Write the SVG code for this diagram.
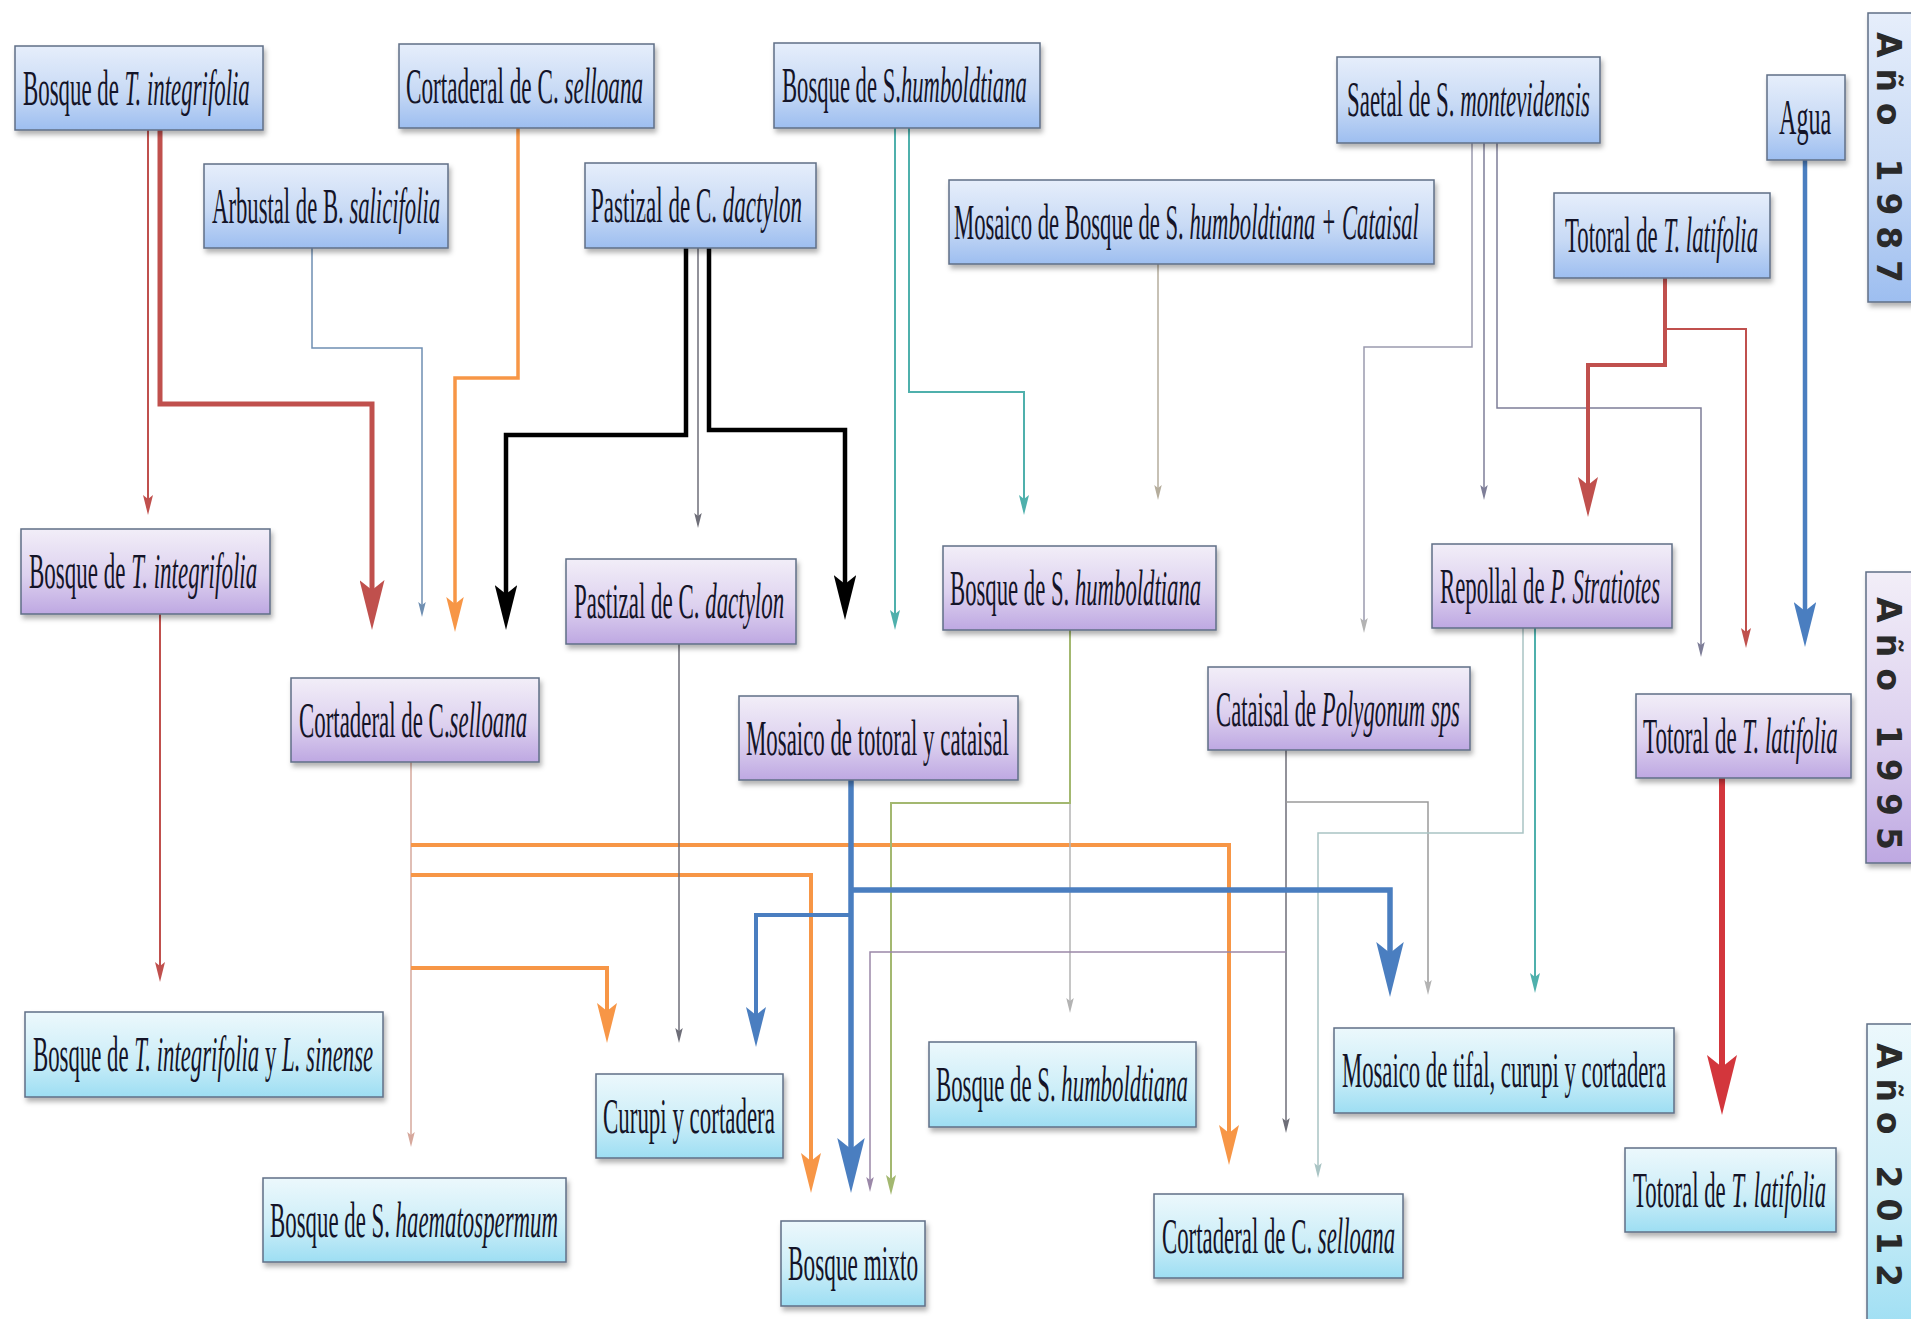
<svg xmlns="http://www.w3.org/2000/svg" width="1911" height="1319" viewBox="0 0 1911 1319">
<style>
.n rect{stroke:#5f6f86;stroke-width:1.5;filter:url(#sh)}
.b rect{fill:url(#gB)}
.p rect{fill:url(#gP)}
.c rect{fill:url(#gC)}
.n text{font-family:"Liberation Serif",serif;font-size:50px;fill:#141428}
.i{font-style:italic}
.yr text{font-family:"DejaVu Sans",sans-serif;font-size:33px;font-weight:bold;fill:#2a2a2a}
#conn path{fill:none;stroke-linejoin:miter}
</style>
<defs>
<linearGradient id="gB" x1="0" y1="0" x2="0" y2="1"><stop offset="0" stop-color="#e6eefb"/><stop offset="0.55" stop-color="#c8daf5"/><stop offset="1" stop-color="#9dbef0"/></linearGradient>
<linearGradient id="gP" x1="0" y1="0" x2="0" y2="1"><stop offset="0" stop-color="#f2eef8"/><stop offset="0.55" stop-color="#ddd1ef"/><stop offset="1" stop-color="#bea8e2"/></linearGradient>
<linearGradient id="gC" x1="0" y1="0" x2="0" y2="1"><stop offset="0" stop-color="#ecf8fc"/><stop offset="0.55" stop-color="#cdeef8"/><stop offset="1" stop-color="#9ddef3"/></linearGradient>
<filter id="sh" x="-10%" y="-20%" width="120%" height="150%"><feDropShadow dx="2" dy="4" stdDeviation="2.5" flood-color="#000" flood-opacity="0.3"/></filter>
<marker id="mRed" viewBox="0 0 10 5" markerWidth="10" markerHeight="5" refX="4" refY="2.5" orient="auto"><path d="M0,0 L10,2.5 L0,5 L2,2.5 z" fill="#c0504d"/></marker>
<marker id="mRed2" viewBox="0 0 10 5" markerWidth="10" markerHeight="5" refX="4" refY="2.5" orient="auto"><path d="M0,0 L10,2.5 L0,5 L2,2.5 z" fill="#d3363c"/></marker>
<marker id="mOr" viewBox="0 0 10 5" markerWidth="10" markerHeight="5" refX="4" refY="2.5" orient="auto"><path d="M0,0 L10,2.5 L0,5 L2,2.5 z" fill="#f79646"/></marker>
<marker id="mBk" viewBox="0 0 10 5" markerWidth="10" markerHeight="5" refX="4" refY="2.5" orient="auto"><path d="M0,0 L10,2.5 L0,5 L2,2.5 z" fill="#000"/></marker>
<marker id="mBg" viewBox="0 0 10 5" markerWidth="10" markerHeight="5" refX="4" refY="2.5" orient="auto"><path d="M0,0 L10,2.5 L0,5 L2,2.5 z" fill="#6f8fb2"/></marker>
<marker id="mGr" viewBox="0 0 10 5" markerWidth="10" markerHeight="5" refX="4" refY="2.5" orient="auto"><path d="M0,0 L10,2.5 L0,5 L2,2.5 z" fill="#6e6e78"/></marker>
<marker id="mTe" viewBox="0 0 10 5" markerWidth="10" markerHeight="5" refX="4" refY="2.5" orient="auto"><path d="M0,0 L10,2.5 L0,5 L2,2.5 z" fill="#4fb0ac"/></marker>
<marker id="mTan" viewBox="0 0 10 5" markerWidth="10" markerHeight="5" refX="4" refY="2.5" orient="auto"><path d="M0,0 L10,2.5 L0,5 L2,2.5 z" fill="#b5ad9c"/></marker>
<marker id="mGp" viewBox="0 0 10 5" markerWidth="10" markerHeight="5" refX="4" refY="2.5" orient="auto"><path d="M0,0 L10,2.5 L0,5 L2,2.5 z" fill="#7e7e98"/></marker>
<marker id="mBl" viewBox="0 0 10 5" markerWidth="10" markerHeight="5" refX="4" refY="2.5" orient="auto"><path d="M0,0 L10,2.5 L0,5 L2,2.5 z" fill="#4a7ec0"/></marker>
<marker id="mPb" viewBox="0 0 10 5" markerWidth="10" markerHeight="5" refX="4" refY="2.5" orient="auto"><path d="M0,0 L10,2.5 L0,5 L2,2.5 z" fill="#d6a89c"/></marker>
<marker id="mYg" viewBox="0 0 10 5" markerWidth="10" markerHeight="5" refX="4" refY="2.5" orient="auto"><path d="M0,0 L10,2.5 L0,5 L2,2.5 z" fill="#a3b870"/></marker>
<marker id="mLg" viewBox="0 0 10 5" markerWidth="10" markerHeight="5" refX="4" refY="2.5" orient="auto"><path d="M0,0 L10,2.5 L0,5 L2,2.5 z" fill="#b3b3b3"/></marker>
<marker id="mMv" viewBox="0 0 10 5" markerWidth="10" markerHeight="5" refX="4" refY="2.5" orient="auto"><path d="M0,0 L10,2.5 L0,5 L2,2.5 z" fill="#9a88a8"/></marker>
<marker id="mLt" viewBox="0 0 10 5" markerWidth="10" markerHeight="5" refX="4" refY="2.5" orient="auto"><path d="M0,0 L10,2.5 L0,5 L2,2.5 z" fill="#a9c4c4"/></marker>
</defs>
<rect width="1911" height="1319" fill="#fff"/>

<g id="conn">
<path d="M148,130 V503" stroke="#c0504d" stroke-width="2" marker-end="url(#mRed)"/>
<path d="M160,130 V404 H372 V600" stroke="#c0504d" stroke-width="5" marker-end="url(#mRed)"/>
<path d="M312,248 V348 H422 V608" stroke="#6f8fb2" stroke-width="1.5" marker-end="url(#mBg)"/>
<path d="M518,128 V378 H455 V611" stroke="#f79646" stroke-width="3.5" marker-end="url(#mOr)"/>
<path d="M686,248 V435 H506 V603" stroke="#000" stroke-width="4.5" marker-end="url(#mBk)"/>
<path d="M698,248 V519" stroke="#6e6e78" stroke-width="1.5" marker-end="url(#mGr)"/>
<path d="M709,248 V430 H845 V593" stroke="#000" stroke-width="4.5" marker-end="url(#mBk)"/>
<path d="M895,128 V618" stroke="#4fb0ac" stroke-width="2" marker-end="url(#mTe)"/>
<path d="M909,128 V392 H1024 V503" stroke="#4fb0ac" stroke-width="2" marker-end="url(#mTe)"/>
<path d="M1158,264 V491" stroke="#b5ad9c" stroke-width="1.5" marker-end="url(#mTan)"/>
<path d="M1472,143 V347 H1364 V624" stroke="#9a9aae" stroke-width="1.5" marker-end="url(#mLg)"/>
<path d="M1484,143 V491" stroke="#7e7e98" stroke-width="1.5" marker-end="url(#mGp)"/>
<path d="M1497,143 V408 H1701 V648" stroke="#7e7e98" stroke-width="1.5" marker-end="url(#mGp)"/>
<path d="M1665,278 V329 H1746 V636" stroke="#c0504d" stroke-width="2" marker-end="url(#mRed)"/>
<path d="M1665,278 V365 H1588 V493" stroke="#c0504d" stroke-width="4" marker-end="url(#mRed)"/>
<path d="M1805,160 V620" stroke="#4a7ec0" stroke-width="4.5" marker-end="url(#mBl)"/>
<path d="M160,614 V970" stroke="#c0504d" stroke-width="2" marker-end="url(#mRed)"/>
<path d="M411,762 V1138" stroke="#d6a89c" stroke-width="1.5" marker-end="url(#mPb)"/>
<path d="M411,845 H1229 V1141" stroke="#f79646" stroke-width="4" marker-end="url(#mOr)"/>
<path d="M411,875 H811 V1169" stroke="#f79646" stroke-width="4" marker-end="url(#mOr)"/>
<path d="M411,968 H607 V1019" stroke="#f79646" stroke-width="4" marker-end="url(#mOr)"/>
<path d="M679,644 V1034" stroke="#6e6e78" stroke-width="1.5" marker-end="url(#mGr)"/>
<path d="M1070,630 V1004" stroke="#b3b3b3" stroke-width="1.5" marker-end="url(#mLg)"/>
<path d="M1070,630 V803 H891 V1183" stroke="#a3b870" stroke-width="2" marker-end="url(#mYg)"/>
<path d="M1286,750 V1124" stroke="#6e6e78" stroke-width="1.5" marker-end="url(#mGr)"/>
<path d="M1286,952 H870 V1183" stroke="#9a88a8" stroke-width="1.5" marker-end="url(#mMv)"/>
<path d="M1286,802 H1428 V986" stroke="#9a9a9a" stroke-width="1.5" marker-end="url(#mLg)"/>
<path d="M1523,628 V833 H1318 V1169" stroke="#a9c4c4" stroke-width="1.5" marker-end="url(#mLt)"/>
<path d="M1535,628 V981" stroke="#4fb0ac" stroke-width="2" marker-end="url(#mTe)"/>
<path d="M851,780 V1160" stroke="#4a7ec0" stroke-width="5.5" marker-end="url(#mBl)"/>
<path d="M851,890 H1390 V964" stroke="#4a7ec0" stroke-width="5.5" marker-end="url(#mBl)"/>
<path d="M851,915 H756 V1023" stroke="#4a7ec0" stroke-width="4" marker-end="url(#mBl)"/>
<path d="M1722,778 V1079" stroke="#d3363c" stroke-width="6" marker-end="url(#mRed2)"/>
</g>

<g id="n_b1" class="n b"><rect x="15" y="46" width="248" height="84"/><text transform="translate(23 105) scale(0.45 1)" textLength="504" lengthAdjust="spacingAndGlyphs">Bosque de <tspan class="i">T. integrifolia</tspan></text></g>
<g id="n_b2" class="n b"><rect x="399" y="44" width="255" height="84"/><text transform="translate(406 103) scale(0.45 1)" textLength="527" lengthAdjust="spacingAndGlyphs">Cortaderal de C. <tspan class="i">selloana</tspan></text></g>
<g id="n_b3" class="n b"><rect x="774" y="43" width="266" height="85"/><text transform="translate(782 102) scale(0.45 1)" textLength="544" lengthAdjust="spacingAndGlyphs">Bosque de S.<tspan class="i">humboldtiana</tspan></text></g>
<g id="n_b4" class="n b"><rect x="1337" y="57" width="263" height="86"/><text transform="translate(1347 116) scale(0.45 1)" textLength="540" lengthAdjust="spacingAndGlyphs">Saetal de S. <tspan class="i">montevidensis</tspan></text></g>
<g id="n_b5" class="n b"><rect x="1767" y="75" width="78" height="85"/><text transform="translate(1779 134) scale(0.45 1)" textLength="116" lengthAdjust="spacingAndGlyphs">Agua</text></g>
<g id="n_b6" class="n b"><rect x="204" y="164" width="244" height="84"/><text transform="translate(212 223) scale(0.45 1)" textLength="507" lengthAdjust="spacingAndGlyphs">Arbustal de B. <tspan class="i">salicifolia</tspan></text></g>
<g id="n_b7" class="n b"><rect x="585" y="163" width="231" height="85"/><text transform="translate(591 222) scale(0.45 1)" textLength="469" lengthAdjust="spacingAndGlyphs">Pastizal de C. <tspan class="i">dactylon</tspan></text></g>
<g id="n_b8" class="n b"><rect x="949" y="180" width="485" height="84"/><text transform="translate(954 239) scale(0.45 1)" textLength="1033" lengthAdjust="spacingAndGlyphs">Mosaico de Bosque de S. <tspan class="i">humboldtiana + Cataisal</tspan></text></g>
<g id="n_b9" class="n b"><rect x="1554" y="193" width="216" height="85"/><text transform="translate(1565 252) scale(0.45 1)" textLength="429" lengthAdjust="spacingAndGlyphs">Totoral de <tspan class="i">T. latifolia</tspan></text></g>

<g id="n_p1" class="n p"><rect x="21" y="529" width="249" height="85"/><text transform="translate(29 588) scale(0.45 1)" textLength="507" lengthAdjust="spacingAndGlyphs">Bosque de <tspan class="i">T. integrifolia</tspan></text></g>
<g id="n_p2" class="n p"><rect x="291" y="678" width="248" height="84"/><text transform="translate(299 737) scale(0.45 1)" textLength="507" lengthAdjust="spacingAndGlyphs">Cortaderal de C.<tspan class="i">selloana</tspan></text></g>
<g id="n_p3" class="n p"><rect x="566" y="559" width="230" height="85"/><text transform="translate(574 618) scale(0.45 1)" textLength="467" lengthAdjust="spacingAndGlyphs">Pastizal de C. <tspan class="i">dactylon</tspan></text></g>
<g id="n_p4" class="n p"><rect x="739" y="696" width="279" height="84"/><text transform="translate(746 755) scale(0.45 1)" textLength="584" lengthAdjust="spacingAndGlyphs">Mosaico de totoral y cataisal</text></g>
<g id="n_p5" class="n p"><rect x="943" y="546" width="273" height="84"/><text transform="translate(950 605) scale(0.45 1)" textLength="558" lengthAdjust="spacingAndGlyphs">Bosque de S. <tspan class="i">humboldtiana</tspan></text></g>
<g id="n_p6" class="n p"><rect x="1208" y="667" width="262" height="83"/><text transform="translate(1216 726) scale(0.45 1)" textLength="542" lengthAdjust="spacingAndGlyphs">Cataisal de <tspan class="i">Polygonum sps</tspan></text></g>
<g id="n_p7" class="n p"><rect x="1432" y="544" width="240" height="84"/><text transform="translate(1440 603) scale(0.45 1)" textLength="489" lengthAdjust="spacingAndGlyphs">Repollal de <tspan class="i">P. Stratiotes</tspan></text></g>
<g id="n_p8" class="n p"><rect x="1636" y="694" width="215" height="84"/><text transform="translate(1643 753) scale(0.45 1)" textLength="433" lengthAdjust="spacingAndGlyphs">Totoral de <tspan class="i">T. latifolia</tspan></text></g>

<g id="n_c1" class="n c"><rect x="25" y="1012" width="358" height="85"/><text transform="translate(33 1071) scale(0.45 1)" textLength="756" lengthAdjust="spacingAndGlyphs">Bosque de <tspan class="i">T. integrifolia</tspan> y <tspan class="i">L. sinense</tspan></text></g>
<g id="n_c2" class="n c"><rect x="263" y="1178" width="303" height="84"/><text transform="translate(270 1237) scale(0.45 1)" textLength="640" lengthAdjust="spacingAndGlyphs">Bosque de S. <tspan class="i">haematospermum</tspan></text></g>
<g id="n_c3" class="n c"><rect x="596" y="1074" width="187" height="84"/><text transform="translate(603 1133) scale(0.45 1)" textLength="382" lengthAdjust="spacingAndGlyphs">Curupi y cortadera</text></g>
<g id="n_c4" class="n c"><rect x="781" y="1221" width="144" height="85"/><text transform="translate(788 1280) scale(0.45 1)" textLength="289" lengthAdjust="spacingAndGlyphs">Bosque mixto</text></g>
<g id="n_c5" class="n c"><rect x="929" y="1042" width="267" height="85"/><text transform="translate(936 1101) scale(0.45 1)" textLength="560" lengthAdjust="spacingAndGlyphs">Bosque de S. <tspan class="i">humboldtiana</tspan></text></g>
<g id="n_c6" class="n c"><rect x="1154" y="1194" width="249" height="84"/><text transform="translate(1162 1253) scale(0.45 1)" textLength="518" lengthAdjust="spacingAndGlyphs">Cortaderal de C. <tspan class="i">selloana</tspan></text></g>
<g id="n_c7" class="n c"><rect x="1334" y="1028" width="340" height="85"/><text transform="translate(1342 1087) scale(0.45 1)" textLength="720" lengthAdjust="spacingAndGlyphs">Mosaico de tifal, curupi y cortadera</text></g>
<g id="n_c8" class="n c"><rect x="1625" y="1148" width="211" height="84"/><text transform="translate(1633 1207) scale(0.45 1)" textLength="429" lengthAdjust="spacingAndGlyphs">Totoral de <tspan class="i">T. latifolia</tspan></text></g>

<g id="y1987" class="n b yr"><rect x="1868" y="13" width="60" height="289"/><text x="1877" y="32" transform="rotate(90 1877 32)" textLength="251" lengthAdjust="spacing">Año 1987</text></g>
<g id="y1995" class="n p yr"><rect x="1866" y="572" width="60" height="291"/><text x="1877" y="597" transform="rotate(90 1877 597)" textLength="253" lengthAdjust="spacing">Año 1995</text></g>
<g id="y2012" class="n c yr"><rect x="1867" y="1024" width="60" height="310"/><text x="1877" y="1043" transform="rotate(90 1877 1043)" textLength="244" lengthAdjust="spacing">Año 2012</text></g>
</svg>
